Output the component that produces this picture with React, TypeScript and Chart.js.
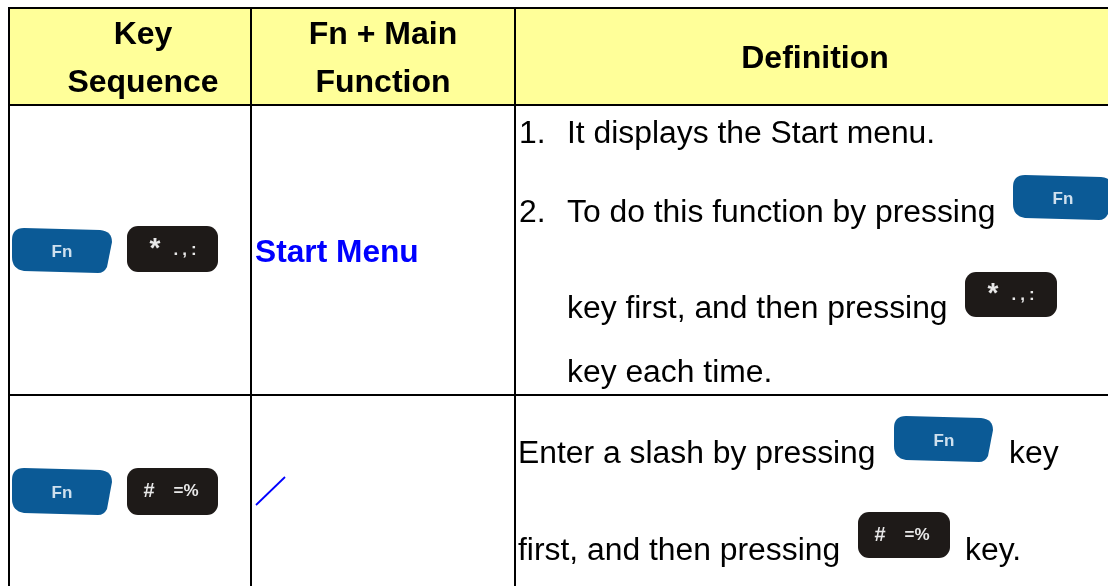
import React, { useEffect, useRef } from "react";
import { Chart, registerables } from "chart.js";

Chart.register(...registerables);

const headerLines = [
  { text: "Key", x: 143, y: 35 },
  { text: "Sequence", x: 143, y: 83 },
  { text: "Fn + Main", x: 383, y: 35 },
  { text: "Function", x: 383, y: 83 },
  { text: "Definition", x: 815, y: 59 },
];
const bodyLines = [
  { text: "1.", x: 519, y: 134 },
  { text: "It displays the Start menu.", x: 567, y: 134 },
  { text: "2.", x: 519, y: 213 },
  { text: "To do this function by pressing", x: 567, y: 213 },
  { text: "key first, and then pressing", x: 567, y: 309 },
  { text: "key each time.", x: 567, y: 373 },
  { text: "Enter a slash by pressing", x: 518, y: 454 },
  { text: "key", x: 1009, y: 454 },
  { text: "first, and then pressing", x: 518, y: 551 },
  { text: "key.", x: 965, y: 551 },
];
const keyCaps = [
  { kind: "fn", x: 12, y: 228, w: 100, h: 45 },
  { kind: "star", x: 127, y: 226, w: 91, h: 46 },
  { kind: "fn", x: 12, y: 468, w: 100, h: 47 },
  { kind: "hash", x: 127, y: 468, w: 91, h: 47 },
  { kind: "fn", x: 1013, y: 175, w: 100, h: 45 },
  { kind: "star", x: 965, y: 272, w: 92, h: 45 },
  { kind: "fn", x: 894, y: 416, w: 99, h: 46 },
  { kind: "hash", x: 858, y: 512, w: 92, h: 46 },
];
const keyGlyphs: Record<string, { text: string; dx: number; size: number; dy: number; gap: number }[]> = {
  fn: [{ text: "Fn", dx: 50, size: 17, dy: 2, gap: 0 }],
  star: [
    { text: "*", dx: 28, size: 28, dy: 0, gap: 0 },
    { text: ".,:", dx: 60, size: 17, dy: 1, gap: 4 },
  ],
  hash: [
    { text: "#", dx: 22, size: 20, dy: 0, gap: 0 },
    { text: "=%", dx: 59, size: 17, dy: 0, gap: 0 },
  ],
};
const columnRules = [9, 251, 515];
const rowRules = [8, 105, 395];
const slashX = [256, 285];
const slashY = [505, 477];
const linkLabel = "Start Menu";

const tablePlugin = {
  id: "tableCells",
  beforeDatasetsDraw(chart: any) {
    const { ctx, scales } = chart;
    const X = (v: number) => scales.x.getPixelForValue(v);
    const Y = (v: number) => scales.y.getPixelForValue(v);
    ctx.save();
    ctx.fillStyle = "#ffff99";
    ctx.fillRect(X(columnRules[0]), Y(rowRules[0]), X(1108) - X(columnRules[0]), Y(rowRules[1]) - Y(rowRules[0]));
    ctx.restore();
  },
  afterDatasetsDraw(chart: any) {
    const { ctx, scales } = chart;
    const X = (v: number) => scales.x.getPixelForValue(v);
    const Y = (v: number) => scales.y.getPixelForValue(v);
    ctx.save();
    ctx.textBaseline = "middle";
    ctx.textAlign = "center";
    ctx.fillStyle = "#000";
    ctx.font = "bold 32px 'Liberation Sans'";
    headerLines.forEach((l) => ctx.fillText(l.text, X(l.x), Y(l.y)));
    ctx.fillStyle = "#0000ff";
    ctx.textAlign = "left";
    ctx.font = "bold 31.7px 'Liberation Sans'";
    ctx.fillText(linkLabel, X(255), Y(253));
    ctx.fillStyle = "#000";
    ctx.font = "31.85px 'Liberation Sans'";
    bodyLines.forEach((l) => ctx.fillText(l.text, X(l.x), Y(l.y)));
    keyCaps.forEach((k) => {
      const x = X(k.x), y = Y(k.y), r = 12;
      const isFn = k.kind === "fn";
      ctx.save();
      ctx.filter = "blur(0.7px)";
      ctx.fillStyle = isFn ? "#0b5a96" : "#1e1a18";
      ctx.beginPath();
      if (isFn) {
        ctx.moveTo(x + r, y);
        ctx.lineTo(x + k.w - r, y + 2);
        ctx.quadraticCurveTo(x + k.w, y + 3, x + k.w, y + 14);
        ctx.lineTo(x + k.w - 5, y + k.h - 6);
        ctx.quadraticCurveTo(x + k.w - 8, y + k.h, x + k.w - 14, y + k.h);
        ctx.lineTo(x + r, y + k.h - 2);
        ctx.quadraticCurveTo(x, y + k.h - 4, x, y + k.h - 16);
        ctx.lineTo(x, y + r);
        ctx.quadraticCurveTo(x, y, x + r, y);
      } else {
        ctx.roundRect(x, y, k.w, k.h, 11);
      }
      ctx.fill();
      ctx.fillStyle = isFn ? "#cfe0ee" : "#e8e8e8";
      ctx.textAlign = "center";
      keyGlyphs[k.kind].forEach((g) => {
        ctx.font = `bold ${g.size}px 'Liberation Sans'`;
        ctx.letterSpacing = `${g.gap}px`;
        ctx.fillText(g.text, x + g.dx, y + k.h / 2 + g.dy);
      });
      ctx.restore();
    });
    ctx.restore();
  },
};

const ruleDatasets = [
  ...columnRules.map((x) => ({
    data: [{ x, y: rowRules[0] - 1 }, { x, y: 586 }],
    borderColor: "#000",
    borderWidth: 2,
    pointRadius: 0,
  })),
  ...rowRules.map((y) => ({
    data: [{ x: columnRules[0], y }, { x: 1108, y }],
    borderColor: "#000",
    borderWidth: 2,
    pointRadius: 0,
  })),
  {
    data: slashX.map((x, i) => ({ x, y: slashY[i] })),
    borderColor: "#0000ff",
    borderWidth: 1.8,
    pointRadius: 0,
  },
];

export default function App() {
  const ref = useRef<HTMLCanvasElement>(null);
  useEffect(() => {
    document.body.style.margin = "0";
    const chart = new Chart(ref.current!, {
      type: "scatter",
      data: { datasets: ruleDatasets.map((d) => ({ ...d, showLine: true })) as any },
      options: {
        animation: false,
        responsive: false,
        layout: { padding: 0 },
        plugins: { legend: { display: false }, tooltip: { enabled: false } },
        scales: {
          x: { type: "linear", min: 0, max: 1108, display: false },
          y: { type: "linear", min: 0, max: 586, reverse: true, display: false },
        },
      },
      plugins: [tablePlugin],
    });
    return () => chart.destroy();
  }, []);
  return <canvas ref={ref} width={1108} height={586} style={{ display: "block", background: "#fff" }} />;
}
